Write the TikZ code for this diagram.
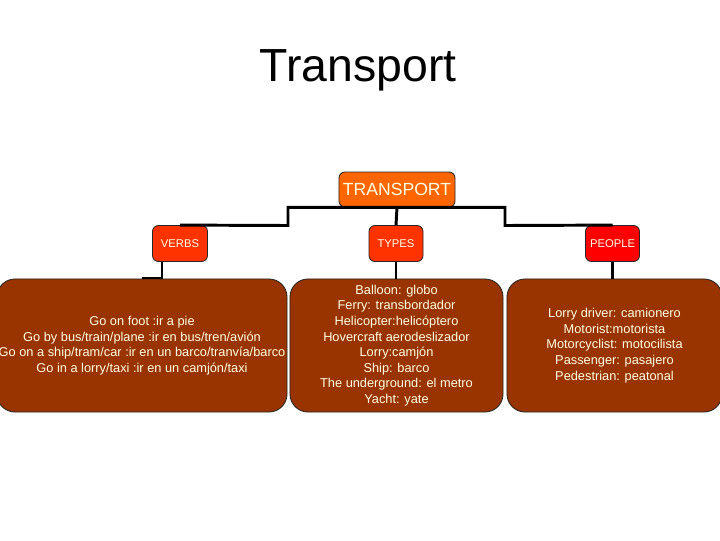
\documentclass[tikz,border=0pt]{standalone}
\usepackage{fontspec}
\setmainfont{Liberation Sans}
\usetikzlibrary{positioning}
\definecolor{TopOrange}{HTML}{FF6600}
\definecolor{MidRed}{HTML}{FF3300}
\definecolor{PureRed}{HTML}{FF0000}
\definecolor{BoxBrown}{HTML}{993300}
\definecolor{TextCream}{HTML}{FFFFE6}

\tikzset{
  head/.style={draw=black!85,line width=.6pt,rounded corners=.15cm,text=TextCream,
    inner sep=0pt,align=center},
  itembox/.style={draw=black!85,line width=.6pt,fill=BoxBrown,rounded corners=.45cm,
    text=TextCream,inner sep=0pt,align=center,minimum height=3.325cm,
    font=\fontsize{9.1}{11.1}\selectfont},
  link/.style={line width=2.1pt}
}

\begin{document}
\begin{tikzpicture}[x=0.025cm,y=-0.025cm,line join=miter]
  \useasboundingbox (0,0) rectangle (720,540);

  \node (title) at (358,70) {\fontsize{33}{36}\selectfont Transport};

  \node[head,fill=TopOrange,minimum width=2.9cm,minimum height=.875cm,
        font=\fontsize{12.5}{14}\selectfont] (transport) at (397,189.5) {TRANSPORT};
  \node[head,fill=MidRed,minimum width=1.375cm,minimum height=.9cm,
        font=\fontsize{8}{10}\selectfont] (verbs) at (180,243.5) {VERBS};
  \node[head,fill=MidRed,minimum width=1.35cm,minimum height=.9cm,
        font=\fontsize{8}{10}\selectfont] (types) at (396,243.5) {TYPES};
  \node[head,fill=PureRed,minimum width=1.35cm,minimum height=.9cm,
        font=\fontsize{8}{10}\selectfont] (people) at (612.5,243.5) {PEOPLE};

  \node[itembox,minimum width=7.25cm] (verbsbox) at (142,345.5)
    {Go on foot :ir a pie\\
     Go by bus/train/plane :ir en bus/tren/avión\\
     Go on a ship/tram/car :ir en un barco/tranvía/barco\\
     Go in a lorry/taxi :ir en un camjón/taxi};
  \node[itembox,minimum width=5.325cm] (typesbox) at (396.5,345.5)
    {Balloon: globo\\
     Ferry: transbordador\\
     Helicopter:helicóptero\\
     Hovercraft aerodeslizador\\
     Lorry:camjón\\
     Ship: barco\\
     The underground: el metro\\
     Yacht: yate};
  \node[itembox,minimum width=5.375cm] (peoplebox) at (614.5,345.5)
    {Lorry driver: camionero\\
     Motorist:motorista\\
     Motorcyclist: motocilista\\
     Passenger: pasajero\\
     Pedestrian: peatonal};

  % elbows of the tree
  \coordinate (bendL) at (288,225.5);
  \coordinate (bendR) at (505,225.5);
  \coordinate (verbsdrop) at (162,278);

  \draw[link] (transport.south) -| (bendL) -- (verbs.north);
  \draw[link] (transport.south) -| (bendR) -- (people.north);
  \draw[link] (transport.south) -- (types.north);
  \draw[link] (verbsdrop |- verbs.south) -- (verbsdrop) -- (verbsdrop -| verbsbox.north);
  \draw[link] (types.south) -- (types.south |- typesbox.north);
  \draw[link] (people.south) -- (people.south |- peoplebox.north);
\end{tikzpicture}
\end{document}
